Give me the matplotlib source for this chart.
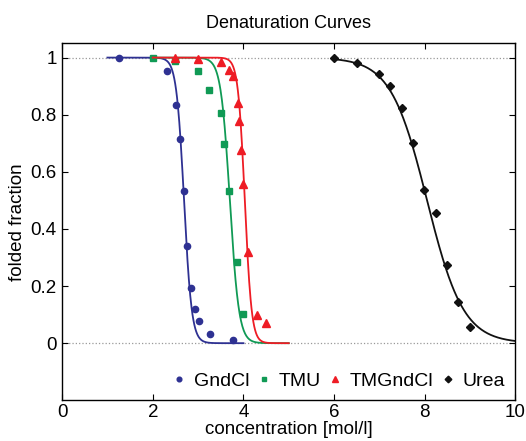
import matplotlib
matplotlib.use("Agg")
import matplotlib.pyplot as plt
import numpy as np

plt.rcParams['font.family'] = ['Liberation Sans', 'DejaVu Sans']

# measured points
gnd_x = [1.26, 2.31, 2.51, 2.60, 2.68, 2.76, 2.85, 2.93, 3.02, 3.27, 3.77]
gnd_y = [1.0, 0.952, 0.833, 0.714, 0.532, 0.341, 0.193, 0.121, 0.078, 0.031, 0.010]

tmu_x = [2.0, 2.50, 2.99, 3.24, 3.50, 3.58, 3.69, 3.85, 3.99]
tmu_y = [1.0, 0.987, 0.952, 0.886, 0.806, 0.696, 0.534, 0.283, 0.103]

tmg_x = [2.50, 2.99, 3.50, 3.69, 3.78, 3.89, 3.91, 3.95, 3.98, 4.10, 4.30, 4.49]
tmg_y = [1.0, 0.995, 0.985, 0.955, 0.936, 0.842, 0.777, 0.677, 0.556, 0.321, 0.099, 0.071]

urea_x = [5.99, 6.50, 6.99, 7.24, 7.50, 7.74, 7.99, 8.24, 8.49, 8.74, 8.99]
urea_y = [1.0, 0.981, 0.942, 0.899, 0.825, 0.700, 0.537, 0.456, 0.273, 0.143, 0.056]

# fitted curves: midpoint, width, plotted range
fit_mid = [2.69, 3.70, 4.03, 8.05]
fit_w = [0.085, 0.10, 0.075, 0.40]
fit_lo = [1.0, 2.0, 2.0, 6.0]
fit_hi = [4.0, 5.0, 5.0, 10.0]

names = ['GndCl', 'TMU', 'TMGndCl', 'Urea']
colors = ['#2e3192', '#109a55', '#ee1c25', '#111111']
markers = ['o', 's', '^', 'D']
msizes = [4.5, 4.2, 6, 4.5]


def sigmoid(x, mid, w):
    return 1.0 / (1.0 + np.exp((x - mid) / w))


fig = plt.figure(figsize=(5.26, 4.41), dpi=100)
ax = fig.add_axes([0.118, 0.0923, 0.862, 0.8095])

ax.axhline(1, color='#999999', ls=':', lw=0.9, zorder=0)
ax.axhline(0, color='#999999', ls=':', lw=0.9, zorder=0)

data = [(gnd_x, gnd_y), (tmu_x, tmu_y), (tmg_x, tmg_y), (urea_x, urea_y)]
for i, (xs, ys) in enumerate(data):
    xx = np.linspace(fit_lo[i], fit_hi[i], 300)
    ax.plot(xx, sigmoid(xx, fit_mid[i], fit_w[i]), color=colors[i], lw=1.3)
    ax.plot(xs, ys, ls='none', marker=markers[i], color=colors[i],
            ms=msizes[i], label=names[i])

ax.set_xlim(0, 10)
ax.set_ylim(-0.2, 1.05)
ax.set_xticks([0, 2, 4, 6, 8, 10])
ax.set_yticks([0, 0.2, 0.4, 0.6, 0.8, 1])
ax.set_yticklabels(['0', '0.2', '0.4', '0.6', '0.8', '1'])
ax.tick_params(direction='in', top=True, right=True, labelsize=13.5, length=4)
ax.tick_params(axis='x', pad=3)
ax.tick_params(axis='y', pad=4)
for s in ax.spines.values():
    s.set_linewidth(1.0)

ax.set_title('Denaturation Curves', fontsize=13, pad=11)
ax.set_xlabel('concentration [mol/l]', fontsize=13.5, labelpad=0)
ax.set_ylabel('folded fraction', fontsize=13.5, labelpad=3)

ax.legend(loc='lower right', ncol=4, frameon=False, fontsize=14,
          handletextpad=0.25, columnspacing=0.25, handlelength=1.0,
          markerscale=0.75, borderaxespad=0.15)

fig.savefig('out.png', dpi=100)
